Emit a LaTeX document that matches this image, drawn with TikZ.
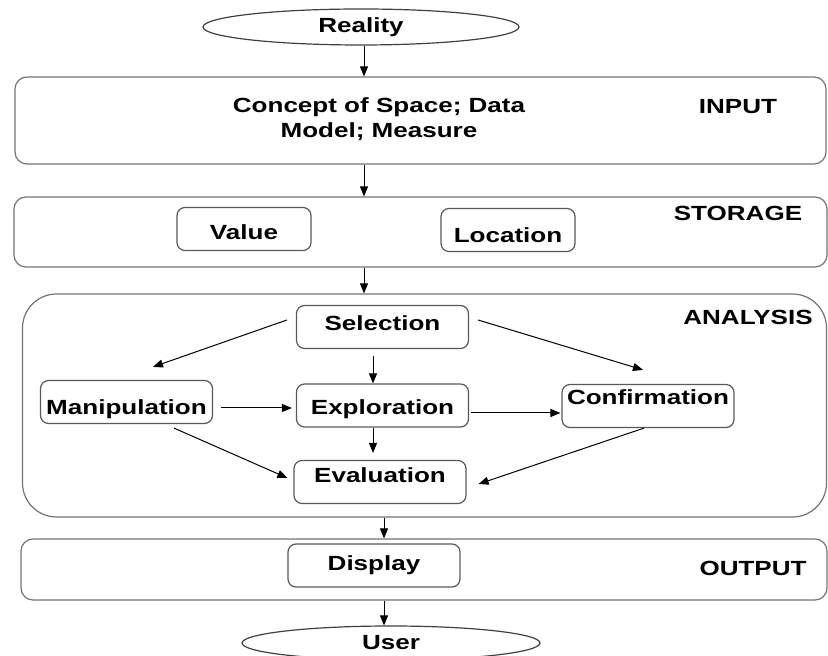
\documentclass[tikz,border=0pt]{standalone}
\usepackage{fontspec}
\setmainfont{Liberation Sans}[FakeStretch=1.27]
\usetikzlibrary{shapes.geometric,arrows.meta,calc}

\tikzset{
  layer/.style={draw=black!55, line width=0.6pt, rounded corners=6pt},
  box/.style={draw=black!65, line width=0.6pt, rounded corners=4pt, inner sep=0pt,
    minimum width=86pt, minimum height=21.5pt, text depth=4pt, text height=11.34pt},
  oval/.style={shape=ellipse, draw=black!75, line width=0.6pt, inner sep=0pt},
  tag/.style={inner sep=0pt},
  flow/.style={-{Triangle[length=5pt,width=4pt]}, line width=0.5pt},
}

\begin{document}
\begin{tikzpicture}[x=0.5pt, y=-0.5pt, font=\fontsize{10.25}{12.5}\selectfont\bfseries]
      \useasboundingbox (0,0) rectangle (828,656);

      % end points
      \node[oval, minimum width=158pt, minimum height=18pt] (reality) at (361,27) {Reality};
      \node[oval, minimum width=149pt, minimum height=17pt] (user) at (391,643) {User};

      % layers
      \node[layer, minimum width=405.5pt, minimum height=43.5pt] (input) at (420.5,120.5) {};
      \node[layer, minimum width=406.5pt, minimum height=35pt] (storage) at (420.5,232) {};
      \node[layer, rounded corners=17pt, minimum width=402pt, minimum height=111.5pt] (analysis) at (424.5,405.5) {};
      \node[layer, minimum width=403pt, minimum height=30.5pt] (output) at (424,569.5) {};

      \node[tag] (inputtag) at (738,107) {INPUT};
      \node[tag] (storagetag) at (738,213) {STORAGE};
      \node[tag] (analysistag) at (748,317) {ANALYSIS};
      \node[tag] (outputtag) at (753,568) {OUTPUT};

      \node[tag, align=center] (concept) at (379,119.5) {Concept of Space; Data\\Model; Measure};

      % boxes
      \node[box, minimum width=67pt, text height=14.34pt] (value) at (244,229) {Value};
      \node[box, minimum width=67pt, text height=16.34pt] (location) at (508,230) {Location};
      \node[box, text height=7.34pt] (selection) at (382.5,327) {Selection};
      \node[box, text height=16.34pt] (manipulation) at (126.5,402) {Manipulation};
      \node[box, text height=12.84pt] (exploration) at (382.5,405.5) {Exploration};
      \node[box, text height=2.34pt] (confirmation) at (648,406) {Confirmation};
      \node[box, text height=4.34pt] (evaluation) at (380,482) {Evaluation};
      \node[box, text height=8.84pt] (display) at (374,565.5) {Display};

      \coordinate (spine) at (364,0);
      \coordinate (spineb) at (384,0);

      \path [flow] (reality.south -| spine) edge (input.north -| spine);
      \path [flow] (input.south -| spine) edge (storage.north -| spine);
      \path [flow] (storage.south -| spine) edge (analysis.north -| spine);
      \path [flow] (analysis.south -| spineb) edge (output.north -| spineb);
      \path [flow] (output.south -| spineb) edge (user.north -| spineb);

      \path [flow] ($(selection.west)+(-9,-7)$) edge ($(manipulation.north)+(26.5,-13)$);
      \path [flow] ($(selection.east)+(9,-7)$) edge ($(confirmation.north)+(-5,-14)$);
      \path [flow] ($(selection.south)+(-9.5,7)$) edge ($(exploration.north)+(-9.5,0)$);
      \path [flow] ($(manipulation.east)+(8,6)$) edge ($(exploration.west)+(-4,2.5)$);
      \path [flow] ($(exploration.east)+(2,7.5)$) edge ($(confirmation.west)+(-1,7)$);
      \path [flow] ($(exploration.south)+(-9.5,0)$) edge ($(evaluation.north)+(-7,-7)$);
      \path [flow] ($(manipulation.south)+(47.5,4)$) edge ($(evaluation.west)+(-6,-4)$);
      \path [flow] ($(confirmation.south)+(-4,0)$) edge ($(evaluation.east)+(12,2)$);
    \end{tikzpicture}
\end{document}
